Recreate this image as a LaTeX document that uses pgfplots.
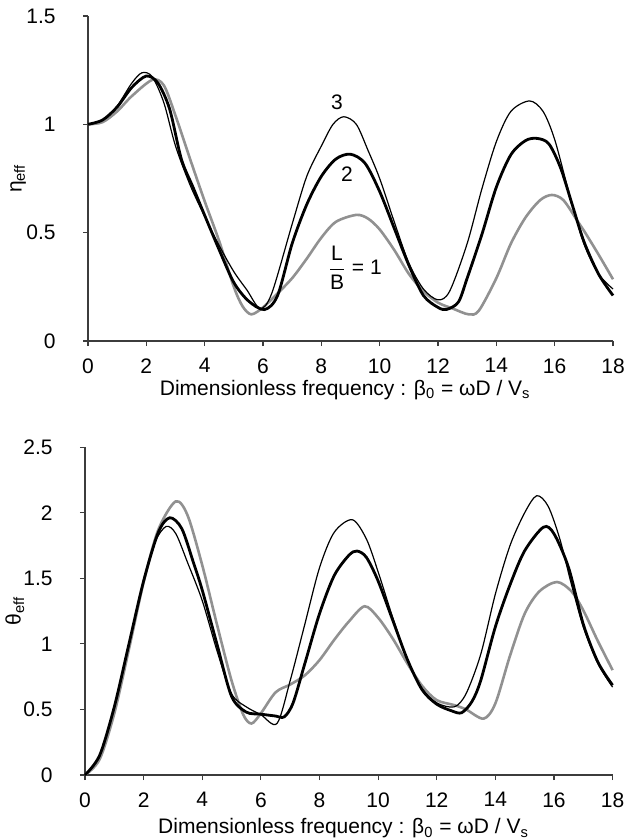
\documentclass[border=0pt]{standalone}
\usepackage{fontspec}
\setmainfont{Liberation Sans}
\usepackage{amsmath}
\usepackage{pgfplots}
\pgfplotsset{compat=1.18}

\definecolor{lgray}{RGB}{145,145,145}
\definecolor{axgray}{RGB}{60,60,60}

\pgfplotsset{
  panel/.style={
    scale only axis,
    axis lines*=left,
    axis line style={axgray, line width=0.6pt},
    tick style={axgray, line width=0.6pt},
    tick align=outside,
    major tick length=2.5pt,
    xmin=0, xmax=18,
    xtick={0,2,...,18},
    clip=false,
    /pgf/number format/assume math mode=true,
    xticklabel style={yshift=-2.5pt},
    yticklabel style={xshift=-10pt},
    xlabel={Dimensionless frequency : β\textsubscript{0} = ωD / V\textsubscript{s}},
    xlabel style={at={(axis description cs:0.49,-0.15)}, anchor=center},
    ylabel style={at={(axis description cs:-0.133,0.5)}, anchor=center},
  },
  s1/.style={lgray, line width=1.3pt, smooth, no markers},
  s2/.style={black, line width=1.4pt, smooth, no markers},
  s3/.style={black, line width=0.6pt, smooth, no markers},
}

\begin{document}
\fontsize{10.5pt}{12.6pt}\selectfont
\begin{tikzpicture}
\useasboundingbox (0,0) rectangle (317pt,-419.5pt);

% top panel: eta_eff
\begin{axis}[panel,
  at={(44pt,-170.5pt)}, anchor=south west,
  width=262.5pt, height=162.5pt,
  ymin=0, ymax=1.5, ytick={0,0.5,1,1.5},
  ylabel={η\textsubscript{eff}},
]
\addplot[s1] coordinates {
 (0,1.00) (0.5,1.01) (1.0,1.06) (1.5,1.13) (2.2,1.205) (2.6,1.18) (3.0,1.04)
 (3.5,0.84) (4.0,0.645) (4.5,0.46) (5.0,0.25) (5.3,0.16) (5.6,0.123) (6.0,0.155)
 (6.5,0.22) (7.0,0.29) (7.5,0.38) (8.0,0.477) (8.5,0.55) (9.2,0.582) (9.6,0.565)
 (10.0,0.515) (10.5,0.42) (11.0,0.31) (11.5,0.23) (12.0,0.177) (12.5,0.15)
 (13.05,0.123) (13.4,0.14) (14.0,0.29) (14.5,0.45) (15.0,0.57) (15.5,0.65)
 (15.9,0.674) (16.3,0.65) (16.8,0.55) (17.0,0.51) (17.5,0.40) (18.0,0.285)
};
\addplot[s2] coordinates {
 (0,1.00) (0.5,1.02) (1.0,1.08) (1.5,1.17) (2.0,1.223) (2.4,1.19) (2.8,1.07)
 (3.2,0.84) (3.6,0.71) (4.0,0.58) (4.5,0.42) (5.0,0.27) (5.5,0.185) (6.05,0.145)
 (6.5,0.21) (7.0,0.45) (7.5,0.63) (8.0,0.76) (8.5,0.84) (9.0,0.862) (9.5,0.82)
 (10.0,0.69) (10.5,0.52) (11.0,0.35) (11.5,0.21) (12.0,0.155) (12.3,0.146)
 (12.7,0.18) (13.0,0.29) (13.5,0.49) (14.0,0.71) (14.5,0.86) (15.0,0.925)
 (15.4,0.935) (15.8,0.91) (16.2,0.80) (16.6,0.63) (17.0,0.46) (17.5,0.31) (18.0,0.21)
};
\addplot[s3] coordinates {
 (0,1.00) (0.5,1.02) (1.0,1.085) (1.5,1.19) (1.85,1.238) (2.2,1.22) (2.6,1.10)
 (3.0,0.90) (3.5,0.72) (4.0,0.575) (4.5,0.44) (5.0,0.32) (5.45,0.235) (5.9,0.15)
 (6.3,0.22) (7.0,0.54) (7.5,0.76) (8.0,0.90) (8.4,1.00) (8.77,1.035) (9.2,1.00)
 (9.6,0.88) (10.0,0.75) (10.5,0.55) (11.0,0.36) (11.5,0.24) (12.0,0.19) (12.4,0.23)
 (13.0,0.45) (13.5,0.70) (14.0,0.92) (14.5,1.06) (15.14,1.108) (15.6,1.06)
 (16.0,0.93) (16.5,0.68) (17.0,0.45) (17.5,0.31) (18.0,0.24)
};
\node at (axis cs:8.54,1.10) {3};
\node at (axis cs:8.88,0.77) {2};
\node at (axis cs:8.54,0.338) {$\dfrac{\text{L}}{\text{B}}$};
\node at (axis cs:9.56,0.34) {= 1};
\end{axis}

% bottom panel: theta_eff
\begin{axis}[panel,
  at={(42.5pt,-387.5pt)}, anchor=south west,
  width=263.8pt, height=163.9pt,
  ymin=0, ymax=2.5, ytick={0,0.5,1,1.5,2,2.5},
  ylabel={θ\textsubscript{eff}},
  xlabel style={at={(axis description cs:0.49,-0.163)}, anchor=center},
]
\addplot[s1] coordinates {
 (0,0) (0.5,0.12) (1.0,0.47) (1.5,0.96) (2.0,1.47) (2.5,1.87) (3.09,2.086)
 (3.5,1.98) (4.0,1.60) (4.5,1.15) (5.0,0.72) (5.4,0.46) (5.68,0.393) (6.0,0.47)
 (6.5,0.63) (7.0,0.69) (7.5,0.76) (8.0,0.876) (8.5,1.03) (9.0,1.17) (9.54,1.287)
 (10.0,1.20) (10.5,1.04) (11.0,0.85) (11.5,0.68) (12.0,0.571) (12.6,0.533)
 (13.0,0.50) (13.6,0.43) (14.0,0.546) (14.5,0.91) (15.0,1.23) (15.5,1.40)
 (16.1,1.472) (16.6,1.40) (17.0,1.256) (17.5,1.02) (18.0,0.80)
};
\addplot[s2] coordinates {
 (0,0) (0.5,0.15) (1.0,0.52) (1.5,1.00) (2.0,1.48) (2.5,1.85) (2.89,1.962)
 (3.3,1.88) (3.7,1.62) (4.0,1.41) (4.5,1.0) (5.0,0.60) (5.5,0.48) (6.0,0.464)
 (6.5,0.45) (6.8,0.444) (7.1,0.55) (7.5,0.85) (8.0,1.23) (8.5,1.52) (9.0,1.675)
 (9.28,1.708) (9.6,1.66) (10.0,1.48) (10.5,1.18) (11.0,0.88) (11.5,0.65)
 (12.0,0.54) (12.5,0.49) (12.85,0.475) (13.2,0.56) (13.5,0.72) (14.0,1.13)
 (14.5,1.45) (15.0,1.71) (15.64,1.89) (16.0,1.84) (16.5,1.58) (17.0,1.15)
 (17.5,0.86) (18.0,0.685)
};
\addplot[s3] coordinates {
 (0,0) (0.5,0.15) (1.0,0.52) (1.5,1.00) (2.0,1.48) (2.4,1.78) (2.77,1.896)
 (3.1,1.84) (3.5,1.62) (4.0,1.33) (4.5,0.95) (5.0,0.62) (5.5,0.52) (6.0,0.46)
 (6.55,0.393) (7.0,0.72) (7.5,1.15) (8.0,1.58) (8.5,1.85) (9.12,1.947) (9.6,1.80)
 (10.0,1.55) (10.5,1.20) (11.0,0.88) (11.5,0.66) (12.0,0.55) (12.6,0.52)
 (13.0,0.62) (13.5,0.92) (14.0,1.38) (14.5,1.75) (15.0,2.0) (15.41,2.13)
 (15.8,2.05) (16.2,1.80) (16.6,1.45) (17.0,1.13) (17.5,0.85) (18.0,0.67)
};
\end{axis}
\end{tikzpicture}
\end{document}
